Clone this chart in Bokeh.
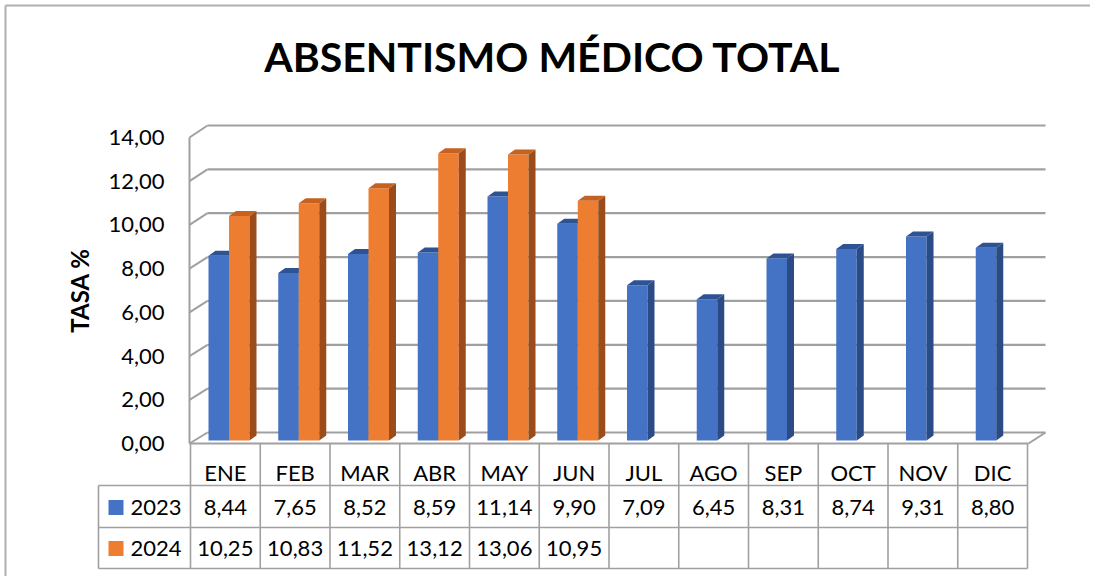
import math
from bokeh.plotting import figure
from bokeh.models import Range1d
from bokeh.embed import file_html
from bokeh.resources import INLINE
from bokeh.core.properties import value

# ---------------- data ----------------
chart_title = "ABSENTISMO MÉDICO TOTAL"
y_title = "TASA %"
months = ["ENE", "FEB", "MAR", "ABR", "MAY", "JUN", "JUL", "AGO", "SEP", "OCT", "NOV", "DIC"]
series_names = ["2023", "2024"]
v2023 = [8.44, 7.65, 8.52, 8.59, 11.14, 9.90, 7.09, 6.45, 8.31, 8.74, 9.31, 8.80]
v2024 = [10.25, 10.83, 11.52, 13.12, 13.06, 10.95]
y_ticks = [0, 2, 4, 6, 8, 10, 12, 14]

# ---------------- styles ----------------
BLUE = ["#4472C4", "#2E5395", "#2A4B85"]     # front, top, side
ORANGE = ["#ED7D31", "#C5621F", "#9C4C1B"]
GRID = "#A0A0A0"
FONT = "Lato"

W, H = 1090, 576
OX, OY = 0, 0
SX, X0 = 69.75, 190.0   # px per category, px of category 0 left edge
SY, Y0 = 21.9, 440.0    # px per unit, px of value 0


def dx(X):
    return (X - X0) / SX


def dy(Y):
    return (Y0 - Y) / SY


p = figure(width=W, height=H,
           x_range=Range1d(dx(OX), dx(OX + W)),
           y_range=Range1d(dy(OY + H), dy(OY)),
           x_axis_type=None, y_axis_type=None,
           output_backend="svg", toolbar_location=None, min_border=0)
p.grid.visible = False
p.outline_line_color = None
p.background_fill_color = "white"
p.border_fill_color = "white"

# outer chart border (top/left)
p.multi_line(xs=[[dx(5), dx(1090)], [dx(5), dx(5)]],
             ys=[[dy(5), dy(5)], [dy(5), dy(576)]],
             line_color="#B0B0B0", line_width=2)


def back_y(v):
    return dy(432 - v * 21.93)


def front_y(v):
    return dy(443 - v * 21.86)


# back wall gridlines
p.multi_line(xs=[[dx(207), dx(1045)] for v in y_ticks],
             ys=[[back_y(v), back_y(v)] for v in y_ticks],
             line_color=GRID, line_width=2.2)
# left wall diagonals
p.multi_line(xs=[[dx(189), dx(207)] for v in y_ticks],
             ys=[[front_y(v), back_y(v)] for v in y_ticks],
             line_color=GRID, line_width=2)
# left wall front edge, floor front edge and right diagonal
p.multi_line(xs=[[dx(189), dx(189)], [dx(189), dx(1028)], [dx(1028), dx(1045)]],
             ys=[[front_y(0), front_y(max(y_ticks))], [front_y(0), front_y(0)], [front_y(0), back_y(0)]],
             line_color=GRID, line_width=2)

# ---------------- 3D bars ----------------
DX = 7 / SX
DY = 5 / SY
L_OFF = 18 / SX
BW = 20.5 / SX


def draw_series(vals, slot, cols):
    lefts = [i + L_OFF + slot * BW for i in range(len(vals))]
    rights = [l + BW for l in lefts]
    p.quad(left=lefts, right=rights, bottom=[0] * len(vals), top=vals,
           fill_color=cols[0], line_color=None)
    p.patches(xs=[[r, r + DX, r + DX, r] for r in rights],
              ys=[[0, DY, v + DY, v] for v in vals],
              fill_color=cols[2], line_color=None)
    p.patches(xs=[[l, r, r + DX, l + DX] for l, r in zip(lefts, rights)],
              ys=[[v, v, v + DY, v + DY] for v in vals],
              fill_color=cols[1], line_color=None)


draw_series(v2023, 0, BLUE)
draw_series(v2024, 1, ORANGE)

# ---------------- y tick labels ----------------
p.text(x=[dx(164)] * len(y_ticks), y=[front_y(v) for v in y_ticks],
       text=[f"{v:.2f}".replace(".", ",") for v in y_ticks],
       text_font=value(FONT), text_font_size="22px", text_color="#000000",
       text_align="right", text_baseline="middle")

# y axis title
p.text(x=[dx(79)], y=[dy(290)], text=[y_title], angle=math.pi / 2,
       text_font=value(FONT), text_font_style="bold", text_font_size="24px",
       text_color="#000000", text_align="center", text_baseline="middle")

# chart title
p.text(x=[dx(552)], y=[dy(56)], text=[chart_title],
       text_font=value(FONT), text_font_style="bold", text_font_size="41px",
       text_color="#000000", text_align="center", text_baseline="middle")

# ---------------- data table ----------------
n = len(months)
row_h = [dy(485), dy(527), dy(568)]
p.multi_line(xs=[[dx(98), n] for _ in row_h],
             ys=[[yy, yy] for yy in row_h],
             line_color=GRID, line_width=1.6)
p.multi_line(xs=[[k, k] for k in range(n + 1)] + [[dx(98), dx(98)]],
             ys=[[front_y(0), dy(568)] for _ in range(n + 1)] + [[dy(485), dy(568)]],
             line_color=GRID, line_width=1.6)

centers = [i + 0.5 for i in range(n)]
p.text(x=centers, y=[dy(472)] * n, text=months,
       text_font=value(FONT), text_font_size="22px", text_color="#000000",
       text_align="center", text_baseline="middle")
p.text(x=centers, y=[dy(507)] * n, text=[f"{v:.2f}".replace(".", ",") for v in v2023],
       text_font=value(FONT), text_font_size="22px", text_color="#000000",
       text_align="center", text_baseline="middle")
p.text(x=centers[:len(v2024)], y=[dy(548)] * len(v2024),
       text=[f"{v:.2f}".replace(".", ",") for v in v2024],
       text_font=value(FONT), text_font_size="22px", text_color="#000000",
       text_align="center", text_baseline="middle")

# legend keys in table
p.rect(x=[dx(115.5)] * 2, y=[dy(507), dy(548)], width=15 / SX, height=15 / SY,
       fill_color=[BLUE[0], ORANGE[0]], line_color=None)
p.text(x=[dx(130)] * 2, y=[dy(507), dy(548)], text=series_names,
       text_font=value(FONT), text_font_size="22px", text_color="#000000",
       text_align="left", text_baseline="middle")

open("out.html", "w").write(file_html(p, INLINE))
